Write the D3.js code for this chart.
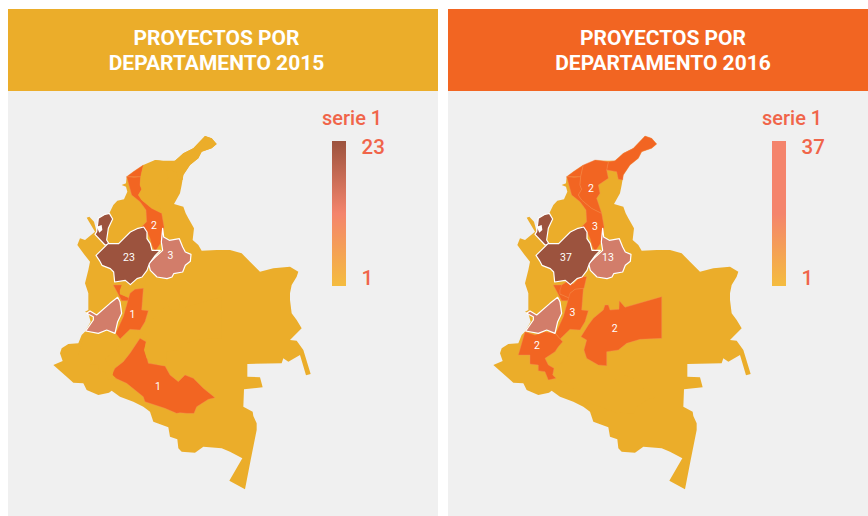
<!DOCTYPE html>
<html>
<head>
<meta charset="utf-8">
<script src="https://d3js.org/d3.v7.min.js"></script>
<style>
body { margin: 0; background: #fff; }
text { font-family: Roboto, sans-serif; }
</style>
</head>
<body>
<svg id="chart"></svg>
<script>
var WIDTH = 868;
var HEIGHT = 516;

var years = ['2015', '2016'];
var departments = ['resto', 'atlantico', 'bolivar', 'guajira', 'magdalena', 'caldas', 'quindio', 'tolima', 'caqueta', 'cauca', 'meta', 'cordoba', 'valle', 'boyaca', 'antioquia', 'uraba'];
var values2015 = [0, 1, 2, 0, 0, 1, 0, 1, 1, 0, 0, 23, 3, 3, 23, null];
var values2016 = [0, 2, 3, 1, 2, 1, 1, 3, 0, 2, 2, 37, 13, 13, 37, null];
var legendMax = [23, 37];
var legendMin = [1, 1];
var seriesName = 'serie 1';

// hand traced outlines, units are 1/3 px from the corner of the map
var shapes = {
    resto: [[495,18],[515,25],[530,42],[515,55],[485,65],[475,85],[450,105],[430,135],[425,165],[420,190],[402,222],[430,230],[437,250],[445,265],[462,295],[458,330],[475,345],[485,362],[530,360],[570,360],[605,370],[630,395],[660,425],[700,415],[750,410],[775,425],[770,440],[755,465],[750,490],[750,510],[755,550],[770,570],[785,595],[750,630],[770,632],[790,660],[812,732],[798,736],[780,675],[745,695],[730,685],[725,700],[622,702],[622,740],[660,742],[668,772],[612,778],[610,830],[638,845],[640,858],[650,880],[650,900],[632,990],[615,1078],[568,1052],[607,985],[570,965],[545,955],[490,950],[465,968],[425,965],[415,955],[412,928],[390,920],[385,892],[340,875],[330,845],[310,830],[280,815],[240,800],[215,782],[207,788],[175,795],[140,780],[130,760],[100,758],[85,745],[40,705],[68,693],[60,670],[65,655],[85,642],[115,640],[125,615],[135,605],[152,575],[145,550],[135,545],[145,540],[145,490],[135,460],[145,420],[150,395],[130,370],[112,345],[120,325],[135,330],[165,305],[140,263],[148,260],[162,275],[170,305],[175,265],[208,250],[220,225],[232,212],[252,208],[262,185],[258,170],[245,165],[258,160],[260,140],[280,125],[310,105],[340,110],[345,90],[365,92],[405,92],[430,70],[460,55],[475,35]],
    atlantico: [[260,140],[280,125],[310,105],[302,140],[283,142]],
    bolivar: [[260,140],[283,142],[302,140],[300,165],[305,178],[295,195],[305,210],[335,235],[365,250],[372,290],[365,335],[345,365],[335,345],[330,325],[321,306],[305,290],[320,275],[318,240],[300,215],[275,195],[265,175]],
    guajira: [[495,18],[515,25],[530,42],[515,55],[485,65],[475,85],[450,105],[430,135],[428,150],[415,148],[410,125],[380,120],[385,95],[405,92],[430,70],[460,55],[475,35]],
    magdalena: [[310,105],[302,140],[300,165],[305,178],[295,195],[305,210],[335,235],[365,250],[350,205],[360,190],[355,165],[385,145],[380,120],[385,95],[365,92],[345,90],[340,110]],
    caldas: [[220,465],[245,465],[255,470],[240,480],[240,492],[270,505],[265,512],[245,512],[230,485]],
    quindio: [[245,465],[265,452],[280,462],[300,440],[320,440],[312,475],[285,478],[270,490],[270,505],[240,492],[240,480],[255,470]],
    tolima: [[270,490],[285,478],[310,475],[305,540],[325,542],[315,575],[300,600],[270,598],[240,627],[227,610],[250,560],[260,530]],
    caqueta: [[300,625],[318,635],[315,660],[325,700],[375,708],[390,735],[415,755],[435,735],[460,745],[490,775],[525,803],[505,808],[470,830],[462,850],[440,850],[420,848],[410,850],[375,835],[315,815],[310,800],[285,780],[260,760],[212,738],[225,715],[250,695],[270,670],[290,640]],
    cauca: [[135,605],[165,615],[195,605],[225,610],[248,635],[235,650],[225,665],[195,685],[205,705],[222,715],[218,735],[228,745],[205,750],[195,725],[175,722],[175,705],[150,702],[150,675],[115,675],[110,645]],
    meta: [[545,500],[545,625],[480,628],[440,640],[415,660],[380,665],[380,707],[355,705],[320,685],[312,660],[320,630],[303,620],[325,585],[340,565],[370,540],[375,525],[385,525],[390,540],[417,538],[418,512],[435,532],[480,520]],
    cordoba: [[175,265],[195,253],[208,250],[218,267],[205,295],[200,330],[208,343],[195,345],[165,313],[170,305],[185,290]],
    valle: [[210,520],[233,502],[240,515],[245,550],[233,575],[225,610],[200,600],[175,610],[137,603],[160,570],[160,560],[140,550],[150,543],[170,555],[195,545]],
    boyaca: [[371,321],[388,331],[418,326],[428,351],[436,366],[453,373],[451,394],[436,406],[428,426],[401,431],[396,441],[381,446],[351,441],[331,421],[326,401],[346,381],[368,361],[364,336],[368,295],[378,310]],
    antioquia: [[204,341],[236,341],[251,326],[271,306],[291,296],[311,291],[321,306],[321,326],[331,341],[336,361],[361,361],[346,376],[328,401],[321,421],[306,441],[291,446],[271,464],[256,451],[224,456],[221,426],[211,416],[186,406],[178,391],[168,376],[196,366]],
    uraba: [[170,290],[185,285],[187,300],[178,308],[170,305]]
};

// where the number sits, only for the departments that show one
var labelAt = {
    '2015': { bolivar: [342,287], tolima: [277,553], caqueta: [354,770], boyaca: [391,376], antioquia: [267,383] },
    '2016': { magdalena: [333,176], bolivar: [345,290], tolima: [277,548], meta: [404,595], cauca: [171,647], boyaca: [384,383], antioquia: [258,383] }
};

var panelColors = ['#EBAD2A', '#F26522'];
var yellow = '#EBAD2A', orange = '#F26522', pink = '#D27D6A', brown = '#9C533E';
var colorScales = [
    d3.scaleThreshold().domain([1, 3, 23]).range([yellow, orange, pink, brown]),
    d3.scaleThreshold().domain([1, 13, 37]).range([yellow, orange, pink, brown])
];
var legendStops = [
    [[0, '#9C533E'], [0.5, '#F4846C'], [1, '#F4BC3F']],
    [[0, '#F4846C'], [0.5, '#F4846C'], [1, '#F4BC3F']]
];
var allValues = [values2015, values2016];

var svg = d3.select('#chart')
    .attr('width', WIDTH)
    .attr('height', HEIGHT)
    .style('display', 'block');

var defs = svg.append('defs');

var panelX = d3.scaleOrdinal().domain(years).range([8, 448]);
var panelW = d3.scaleOrdinal().domain(years).range([430, 420]);
var titleX = d3.scaleOrdinal().domain(years).range([216.5, 663]);

years.forEach(function(year, i) {
    var x0 = panelX(year);
    var g = svg.append('g');

    g.append('rect')
        .attr('x', x0).attr('y', 9)
        .attr('width', panelW(year)).attr('height', 507)
        .attr('fill', '#F0F0F0');
    g.append('rect')
        .attr('x', x0).attr('y', 9)
        .attr('width', panelW(year)).attr('height', 82)
        .attr('fill', panelColors[i]);

    g.selectAll('text.title')
        .data(['PROYECTOS POR', 'DEPARTAMENTO ' + year])
        .enter()
        .append('text')
        .attr('class', 'title')
        .attr('x', titleX(year))
        .attr('y', function(d, k) { return 45 + k * 25; })
        .attr('text-anchor', 'middle')
        .attr('font-size', 21)
        .attr('font-weight', 700)
        .attr('fill', '#fff')
        .text(function(d) { return d; });

    // the map
    var projection = d3.geoIdentity().scale(1 / 3).translate([40 + i * 440, 130]);
    var path = d3.geoPath(projection);
    var rows = departments.map(function(name, k) {
        return {
            type: 'Feature',
            properties: { name: name, value: allValues[i][k] },
            geometry: { type: 'Polygon', coordinates: [shapes[name]] }
        };
    });

    g.selectAll('path.dept')
        .data(rows)
        .enter()
        .append('path')
        .attr('class', 'dept')
        .attr('d', path)
        .attr('fill', function(d) {
            return d.properties.value === null ? '#fff' : colorScales[i](d.properties.value);
        })
        .attr('stroke', function(d) {
            if (d.properties.value === null) return 'none';
            var c = colorScales[i](d.properties.value);
            if (c === pink || c === brown) return '#fff';
            return c === orange ? '#F58A55' : 'none';
        })
        .attr('stroke-width', function(d) {
            var c = colorScales[i](d.properties.value);
            return (c === pink || c === brown) ? 1.2 : 0.4;
        })
        .attr('stroke-linejoin', 'round');

    g.selectAll('text.num')
        .data(Object.keys(labelAt[year]))
        .enter()
        .append('text')
        .attr('class', 'num')
        .attr('x', function(d) { return projection(labelAt[year][d])[0]; })
        .attr('y', function(d) { return projection(labelAt[year][d])[1] + 3.5; })
        .attr('text-anchor', 'middle')
        .attr('font-size', 10.5)
        .attr('fill', '#fff')
        .text(function(d) { return allValues[i][departments.indexOf(d)]; });

    // legend
    var gradId = 'grad' + year;
    var grad = defs.append('linearGradient')
        .attr('id', gradId)
        .attr('x1', 0).attr('y1', 0).attr('x2', 0).attr('y2', 1);
    grad.selectAll('stop')
        .data(legendStops[i])
        .enter()
        .append('stop')
        .attr('offset', function(d) { return d[0]; })
        .attr('stop-color', function(d) { return d[1]; });

    var legendScale = d3.scaleLinear().domain([legendMin[i], legendMax[i]]).range([286, 141]);
    var lx = 332 + i * 440;

    g.append('rect')
        .attr('x', lx).attr('y', legendScale(legendMax[i]))
        .attr('width', 14)
        .attr('height', legendScale(legendMin[i]) - legendScale(legendMax[i]))
        .attr('fill', 'url(#' + gradId + ')');

    g.append('text')
        .attr('x', lx - 10).attr('y', 125)
        .attr('font-size', 20)
        .attr('font-weight', 500)
        .attr('fill', '#F0654A')
        .text(seriesName);

    g.selectAll('text.tick')
        .data([legendMax[i], legendMin[i]])
        .enter()
        .append('text')
        .attr('class', 'tick')
        .attr('x', lx + 29.5)
        .attr('y', function(d, k) { return k === 0 ? 154 : 285; })
        .attr('font-size', 20.5)
        .attr('font-weight', 500)
        .attr('fill', '#F0654A')
        .text(function(d) { return d; });
});
</script>
</body>
</html>
